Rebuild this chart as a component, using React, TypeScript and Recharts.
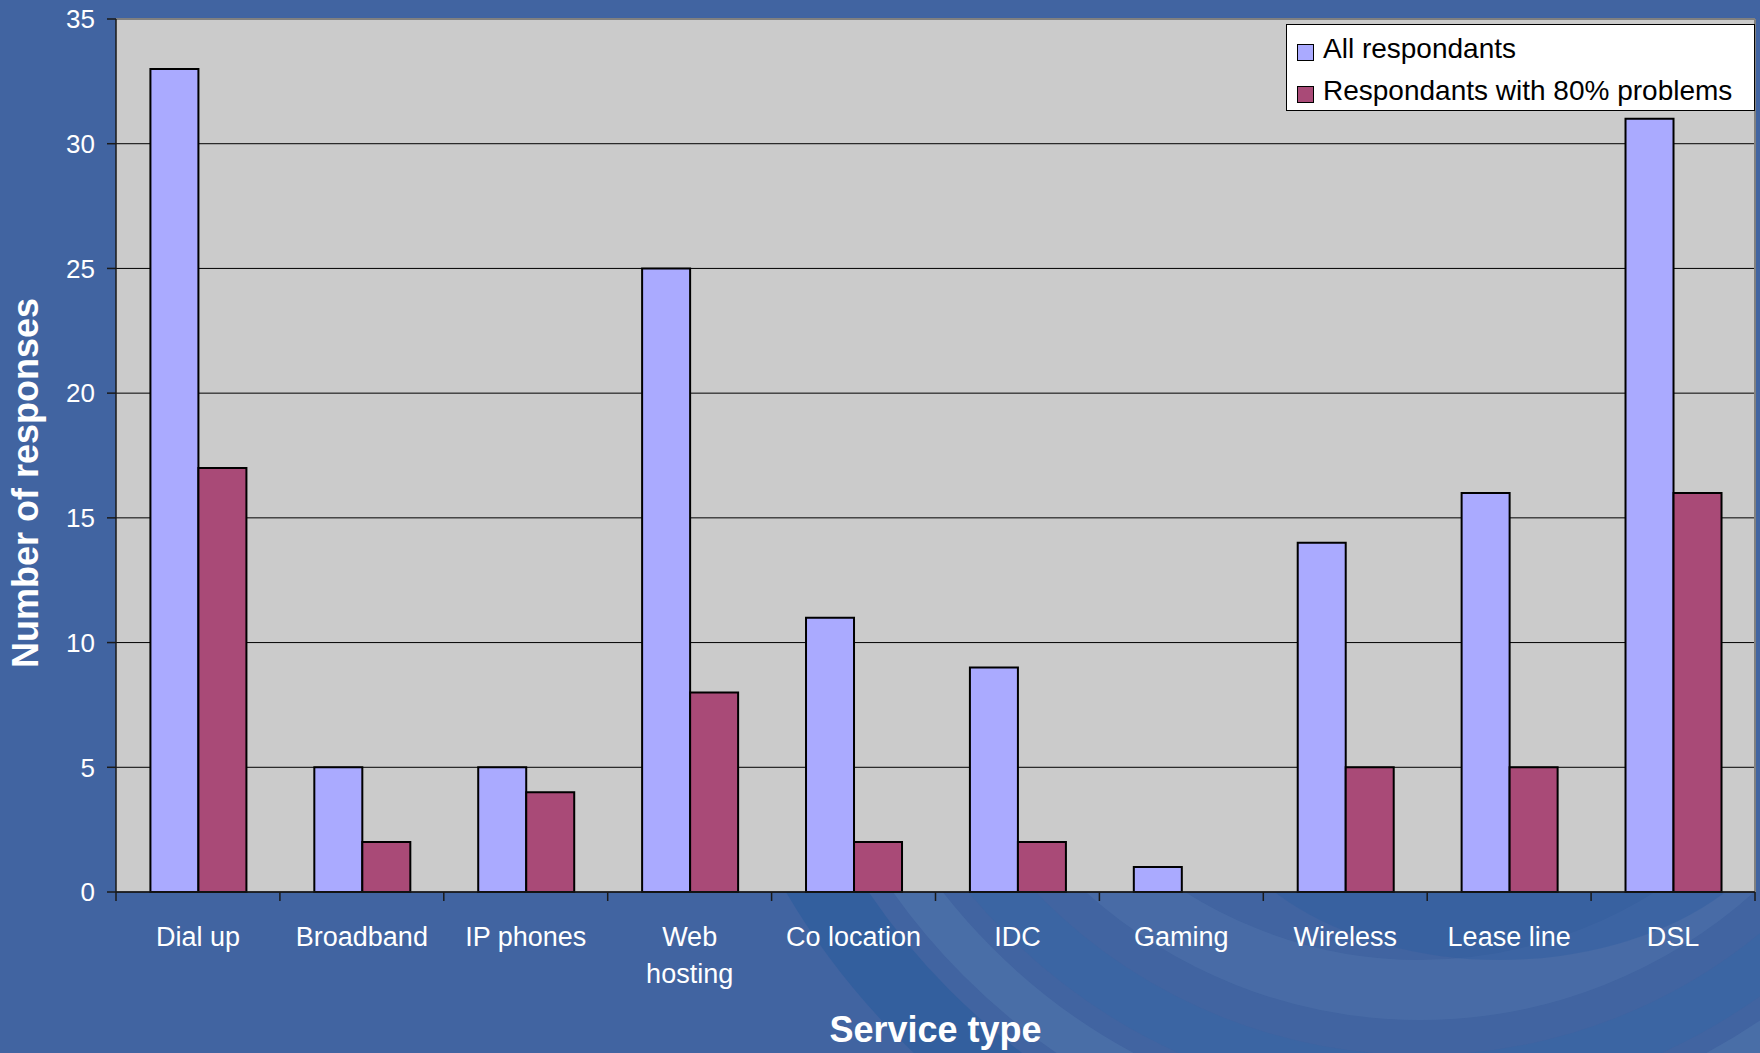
import React from 'react';
import { BarChart, Bar, XAxis, YAxis, CartesianGrid, Legend, Label } from 'recharts';

// === DATA ===
const categories = ['Dial up', 'Broadband', 'IP phones', 'Web hosting', 'Co location', 'IDC', 'Gaming', 'Wireless', 'Lease line', 'DSL'];
const allRespondants = [33, 5, 5, 25, 11, 9, 1, 14, 16, 31];
const problemRespondants = [17, 2, 4, 8, 2, 2, 0, 5, 5, 16];
const yTicks = [0, 5, 10, 15, 20, 25, 30, 35];
const seriesNames = ['All respondants', 'Respondants with 80% problems'];

const data = categories.map((name, i) => ({
  name,
  all: allRespondants[i],
  problems: problemRespondants[i],
}));

// === LAYOUT / COLOURS ===
const W = 1760;
const H = 1053;
const PLOT_LEFT = 116;
const PLOT_TOP = 19;
const PLOT_RIGHT = 1755;
const PLOT_BOTTOM = 892;
const X_AXIS_H = 150;
const CAT_W = (PLOT_RIGHT - PLOT_LEFT) / categories.length;

const BG = '#4164A1';
const PLOT_BG = '#CBCBCB';
const COLOR_ALL = '#AAAAFF';
const COLOR_PROB = '#A94A77';
const FONT = '"Liberation Sans", Arial, sans-serif';

// labels that wrap onto two lines in the original
const wrapped: Record<string, string[]> = { 'Web hosting': ['Web', 'hosting'] };

function CategoryTick(props: any) {
  const { x, y, payload, index } = props;
  const lines = wrapped[payload.value] || [payload.value];
  const left = x - CAT_W / 2;
  return (
    <g>
      <line x1={left} x2={left} y1={y - 9} y2={y} stroke="#1a1a1a" strokeWidth={1.5} />
      {index === categories.length - 1 && (
        <line x1={x + CAT_W / 2} x2={x + CAT_W / 2} y1={y - 9} y2={y} stroke="#1a1a1a" strokeWidth={1.5} />
      )}
      {lines.map((l: string, i: number) => (
        <text key={i} x={x} y={y + 45 + i * 37} textAnchor="middle" fill="#fff" fontSize={27} fontFamily={FONT}>
          {l}
        </text>
      ))}
    </g>
  );
}

function LegendBox() {
  const colors = [COLOR_ALL, COLOR_PROB];
  return (
    <div
      style={{
        background: '#fff',
        border: '1px solid #000',
        width: 469,
        height: 87,
        boxSizing: 'border-box',
        padding: '3px 0 0 10px',
        fontFamily: FONT,
        fontSize: 28,
        color: '#000',
        textAlign: 'left',
      }}
    >
      {seriesNames.map((n, i) => (
        <div key={n} style={{ display: 'flex', alignItems: 'center', height: 42 }}>
          <span
            style={{
              display: 'inline-block',
              width: 15,
              height: 15,
              background: colors[i],
              border: '1.5px solid #000',
              marginRight: 9,
              marginTop: 6,
            }}
          />
          <span>{n}</span>
        </div>
      ))}
    </div>
  );
}

// decorative swoosh of the slide background, only visible below the plot
function Backdrop() {
  const top = PLOT_BOTTOM;
  return (
    <svg width={W} height={H - top} style={{ position: 'absolute', left: 0, top }}>
      <g transform={`translate(0, ${-top})`}>
        <circle cx={1420} cy={520} r={700} fill="none" stroke="#2A5C9D" strokeWidth={70} opacity={0.6} />
        <circle cx={1420} cy={520} r={625} fill="none" stroke="#5579AF" strokeWidth={40} opacity={0.45} />
        <circle cx={1420} cy={520} r={560} fill="none" stroke="#3566A5" strokeWidth={50} opacity={0.5} />
        <circle cx={1420} cy={520} r={470} fill="none" stroke="#5A7EB2" strokeWidth={60} opacity={0.3} />
        <ellipse cx={1500} cy={760} rx={300} ry={200} fill="#2E5E9F" opacity={0.45} />
      </g>
    </svg>
  );
}

export default function App() {
  return (
    <div style={{ position: 'absolute', left: 0, top: 0, width: W, height: H, background: BG, overflow: 'hidden' }}>
      <Backdrop />
      <div style={{ position: 'absolute', left: 0, top: 0 }}>
        <BarChart
          width={W}
          height={H}
          data={data}
          margin={{ top: PLOT_TOP, right: W - PLOT_RIGHT, left: 0, bottom: H - PLOT_BOTTOM - X_AXIS_H }}
          barCategoryGap="21%"
          barGap={0}
        >
          <CartesianGrid vertical={false} stroke="#000" strokeWidth={1} fill={PLOT_BG} fillOpacity={1} />
          <CartesianGrid
            horizontalPoints={[PLOT_TOP]}
            verticalPoints={[PLOT_RIGHT]}
            stroke="#808080"
            strokeWidth={2}
          />
          <XAxis
            dataKey="name"
            height={X_AXIS_H}
            interval={0}
            tickLine={false}
            tickSize={9}
            tickMargin={0}
            axisLine={{ stroke: '#1a1a1a', strokeWidth: 1.5 }}
            tick={<CategoryTick />}
          >
            <Label
              content={() => (
                <text
                  x={(PLOT_LEFT + PLOT_RIGHT) / 2}
                  y={1042}
                  textAnchor="middle"
                  fill="#fff"
                  fontSize={36}
                  fontWeight="bold"
                  fontFamily={FONT}
                >
                  Service type
                </text>
              )}
            />
          </XAxis>
          <YAxis
            width={PLOT_LEFT}
            domain={[0, 35]}
            ticks={yTicks}
            interval={0}
            tickSize={9}
            tickMargin={12}
            axisLine={{ stroke: '#1a1a1a', strokeWidth: 1.5 }}
            tickLine={{ stroke: '#1a1a1a', strokeWidth: 1.5 }}
            tick={{ fill: '#fff', fontSize: 26, fontFamily: FONT }}
          >
            <Label
              content={() => (
                <text
                  x={38}
                  y={483}
                  transform="rotate(-90, 38, 483)"
                  textAnchor="middle"
                  fill="#fff"
                  fontSize={36}
                  fontWeight="bold"
                  fontFamily={FONT}
                >
                  Number of responses
                </text>
              )}
            />
          </YAxis>
          <Legend
            content={<LegendBox />}
            wrapperStyle={{ position: 'absolute', left: 1286, top: 24, width: 469, height: 0, overflow: 'visible' }}
          />
          <Bar dataKey="all" name={seriesNames[0]} fill={COLOR_ALL} stroke="#000" strokeWidth={2} isAnimationActive={false} />
          <Bar dataKey="problems" name={seriesNames[1]} fill={COLOR_PROB} stroke="#000" strokeWidth={2} isAnimationActive={false} />
        </BarChart>
      </div>
    </div>
  );
}
